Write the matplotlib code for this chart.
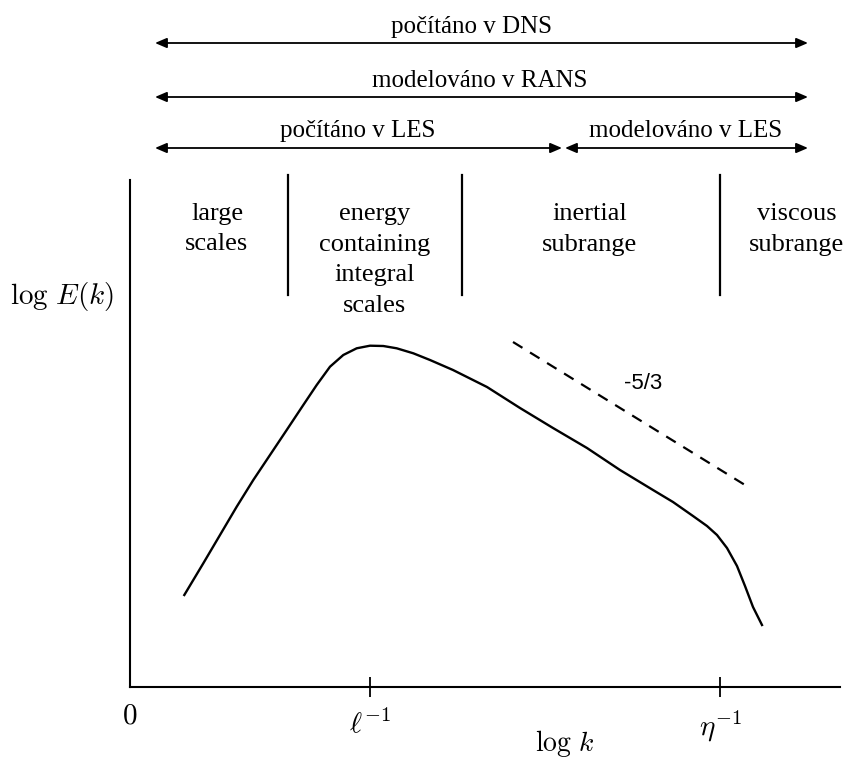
import matplotlib
matplotlib.use("Agg")
import matplotlib.pyplot as plt

plt.rcParams['mathtext.fontset'] = 'cm'
plt.rcParams['font.family'] = ['Liberation Serif', 'DejaVu Serif']

# spectrum curve (log k, log E)
curve_x = [0.543, 0.733, 0.90, 1.067, 1.233, 1.40, 1.567, 1.733, 1.867, 2.00, 2.133,
           2.267, 2.40, 2.533, 2.667, 2.833, 3.00, 3.23, 3.57, 3.90, 4.23, 4.57,
           4.90, 5.23, 5.43, 5.63, 5.77, 5.87, 5.97, 6.07, 6.15, 6.23, 6.32]
curve_y = [0.92, 1.237, 1.52, 1.803, 2.07, 2.32, 2.57, 2.82, 3.02, 3.203, 3.32,
           3.387, 3.413, 3.41, 3.387, 3.337, 3.27, 3.17, 3.00, 2.79, 2.59, 2.39,
           2.17, 1.97, 1.85, 1.71, 1.61, 1.52, 1.39, 1.21, 1.01, 0.80, 0.62]
slope_x = [3.83, 6.15]
slope_y = [3.45, 2.02]
slope_label = "-5/3"

tick_pos = [2.40, 5.90]
tick_labels = [r'$\ell^{-1}$', r'$\eta^{-1}$']

divider_x = [1.58, 3.32, 5.90]
region_x = [0.87, 2.45, 4.60, 6.67]
region_labels = ["large\nscales", "energy\ncontaining\nintegral\nscales",
                 "inertial\nsubrange", "viscous\nsubrange"]

arrow_spans = [(0.25, 6.78, 6.44), (0.25, 6.78, 5.90), (0.25, 4.32, 5.39), (4.35, 6.78, 5.39)]
arrow_labels = ["počítáno v DNS", "modelováno v RANS", "počítáno v LES", "modelováno v LES"]
arrow_label_x = [3.42, 3.50, 2.28, 5.56]
arrow_label_y = [6.60, 6.06, 5.56, 5.56]

fig = plt.figure(figsize=(8.43, 7.6), dpi=100)
ax = fig.add_axes([130/843, 73/760, 710/843, 507/760])
ax.set_xlim(0, 7.1)
ax.set_ylim(0, 5.07)
for s in ['top', 'right']:
    ax.spines[s].set_visible(False)
for s in ['left', 'bottom']:
    ax.spines[s].set_linewidth(1.5)
ax.set_yticks([])
ax.set_xticks(tick_pos)
ax.set_xticklabels(tick_labels, fontsize=21)
ax.tick_params(axis='x', direction='inout', length=14, width=1.3, pad=8)

ax.plot(curve_x, curve_y, color='black', lw=1.7, solid_joinstyle='round')
ax.plot(slope_x, slope_y, color='black', lw=1.6, ls=(0, (5, 4)))
ax.text(5.13, 3.04, slope_label, fontsize=16, family='Liberation Sans', ha='center', va='center')

for xd in divider_x:
    ax.plot([xd, xd], [3.92, 5.12], color='black', lw=1.6, clip_on=False)
for xr, lab in zip(region_x, region_labels):
    ax.text(xr, 4.84, lab, fontsize=19, ha='center', va='top', linespacing=1.5)

for (x0, x1, y), lab, lx, ly in zip(arrow_spans, arrow_labels, arrow_label_x, arrow_label_y):
    ax.annotate('', xy=(x1, y), xytext=(x0, y), annotation_clip=False,
                arrowprops=dict(arrowstyle='<|-|>,head_length=0.7,head_width=0.3',
                                color='black', lw=1.3, shrinkA=0, shrinkB=0))
    ax.text(lx, ly, lab, fontsize=18, ha='center', va='center')

ax.text(-0.68, 3.91, r'$\log\,E(k)$', fontsize=21, ha='center', va='center')
ax.text(0, -0.29, r'$0$', fontsize=21, ha='center', va='center')
ax.text(4.35, -0.565, r'$\log\,k$', fontsize=20, ha='center', va='center')

fig.savefig('out.png', dpi=100, facecolor='white')
